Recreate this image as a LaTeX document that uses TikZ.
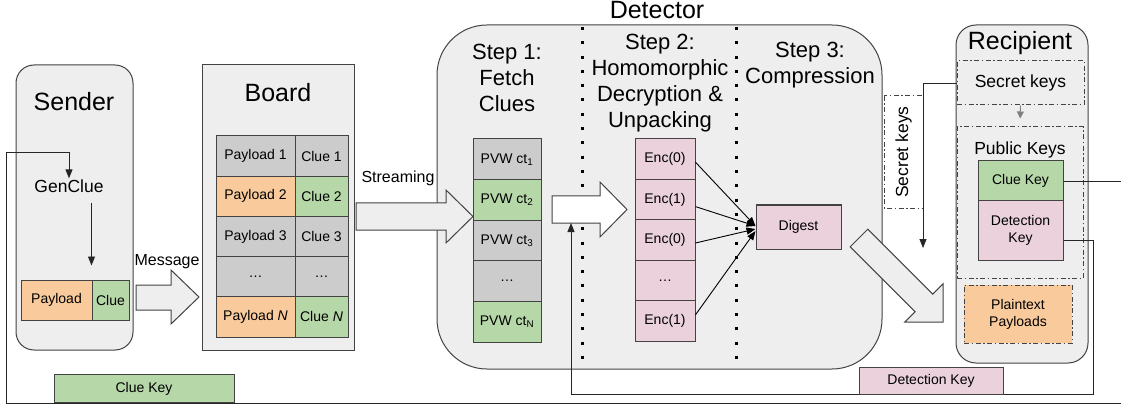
\documentclass[tikz,border=0pt]{standalone}
\usepackage{fontspec}
\setmainfont{Liberation Sans}
\usetikzlibrary{arrows.meta}

\definecolor{boxgray}{HTML}{EEEEEE}
\definecolor{cellgray}{HTML}{CCCCCC}
\definecolor{payorange}{HTML}{F9CB9C}
\definecolor{cluegreen}{HTML}{B6D7A8}
\definecolor{encpink}{HTML}{EAD1DC}
\definecolor{edgegray}{HTML}{434343}

\tikzset{
  container/.style={draw=edgegray, fill=boxgray, line width=1pt},
  cell/.style={draw=edgegray, line width=1pt, inner sep=0pt, align=center, font=\fontsize{14}{17}\selectfont},
  keybox/.style={draw=edgegray, line width=1pt, dash pattern=on 5pt off 2.5pt on 1.5pt off 2.5pt, inner sep=0pt, align=center},
  bigarrow/.style={draw=edgegray, line width=1pt, fill=boxgray},
  arr/.style={-{Triangle[length=9pt,width=7pt]}, line width=0.9pt, draw=black!85},
  stepsep/.style={line width=3pt, dash pattern=on 3pt off 11.3pt},
  title/.style={inner sep=0pt, font=\fontsize{25}{28}\selectfont},
  steplbl/.style={inner sep=0pt, align=center, font=\fontsize{22}{26}\selectfont},
  midtext/.style={inner sep=0pt, font=\fontsize{16}{19}\selectfont},
  keytext/.style={inner sep=0pt, align=center, font=\fontsize{17.5}{21}\selectfont}
}

\begin{document}
\begin{tikzpicture}[x=1pt, y=-1pt]
    \useasboundingbox (0,0) rectangle (1121,406);

    % Sender
    \draw[container, rounded corners=18pt] (16,65) rectangle (133,350);
    \node[title] (sender) at (74,102) {Sender};
    \node[keytext] (gen) at (69,186) {GenClue};
    \node[cell, fill=payorange, minimum width=71pt, minimum height=40pt] (pay) at (56.5,300) {Payload};
    \node[cell, fill=cluegreen, minimum width=37pt, minimum height=40pt] (clue) at (110.5,300) {Clue};
    \draw[arr, shorten <=10pt, shorten >=14pt] (gen.south -| clue.west) -- (clue.north west);

    % Message arrow
    \draw[bigarrow] (136,285) -- (171,285) -- (171,270) -- (199,297) -- (171,324) -- (171,310) -- (136,310) -- cycle;
    \node[midtext] (msg) at (167,262) {Message};

    % Board
    \draw[container] (202,65) rectangle (354,350);
    \node[title] (board) at (278,93) {Board};
    \node[cell, fill=cellgray, minimum width=79pt, minimum height=40.2pt] (bp1) at (255.5,156.1) {Payload 1};
    \node[cell, fill=cellgray, minimum width=53pt, minimum height=40.2pt] (bc1) at (321.5,156.1) {Clue 1};
    \node[cell, fill=payorange, minimum width=79pt, minimum height=40.2pt] (bp2) at (255.5,196.3) {Payload 2};
    \node[cell, fill=cluegreen, minimum width=53pt, minimum height=40.2pt] (bc2) at (321.5,196.3) {Clue 2};
    \node[cell, fill=cellgray, minimum width=79pt, minimum height=40.2pt] (bp3) at (255.5,236.5) {Payload 3};
    \node[cell, fill=cellgray, minimum width=53pt, minimum height=40.2pt] (bc3) at (321.5,236.5) {Clue 3};
    \node[cell, fill=cellgray, minimum width=79pt, minimum height=40.2pt] (bpd) at (255.5,276.7) {\dots};
    \node[cell, fill=cellgray, minimum width=53pt, minimum height=40.2pt] (bcd) at (321.5,276.7) {\dots};
    \node[cell, fill=payorange, minimum width=79pt, minimum height=40.2pt] (bpn) at (255.5,316.9) {Payload \textit{N}};
    \node[cell, fill=cluegreen, minimum width=53pt, minimum height=40.2pt] (bcn) at (321.5,316.9) {Clue \textit{N}};

    % Detector
    \draw[container, rounded corners=50pt] (437,25) rectangle (882,369);
    \node[title] (det) at (657,10) {Detector};
    \draw[stepsep] (582,27) -- (582,369);
    \draw[stepsep] (736,27) -- (736,369);
    \node[steplbl] (step1) at (507,78) {Step 1:\\Fetch\\Clues};
    \node[steplbl] (step2) at (660,83) {Step 2:\\Homomorphic\\Decryption \&\\Unpacking};
    \node[steplbl] (step3) at (810,65.5) {Step 3:\\Compression};

    % Streaming arrow
    \draw[bigarrow] (356,203) -- (446,203) -- (446,190) -- (473,216.5) -- (446,243) -- (446,230) -- (356,230) -- cycle;
    \node[midtext] (stream) at (398,178) {Streaming};

    % Step 1 column
    \node[cell, fill=cellgray, minimum width=68pt, minimum height=40.6pt] (ct1) at (507,159.3) {PVW ct\textsubscript{1}};
    \node[cell, fill=cluegreen, minimum width=68pt, minimum height=40.6pt] (ct2) at (507,199.9) {PVW ct\textsubscript{2}};
    \node[cell, fill=cellgray, minimum width=68pt, minimum height=40.6pt] (ct3) at (507,240.5) {PVW ct\textsubscript{3}};
    \node[cell, fill=cellgray, minimum width=68pt, minimum height=40.6pt] (ctd) at (507,281.1) {\dots};
    \node[cell, fill=cluegreen, minimum width=68pt, minimum height=40.6pt] (ctn) at (507,321.7) {PVW ct\textsubscript{N}};

    % Step 1 to step 2
    \draw[bigarrow, fill=white] (552,196) -- (600,196) -- (600,182) -- (627,209.5) -- (600,237) -- (600,223) -- (552,223) -- cycle;
    \coordinate (unpackin) at (571,223);

    % Step 2 column
    \node[cell, fill=encpink, minimum width=60pt, minimum height=40.4pt] (e1) at (665,159.2) {Enc(0)};
    \node[cell, fill=encpink, minimum width=60pt, minimum height=40.4pt] (e2) at (665,199.6) {Enc(1)};
    \node[cell, fill=encpink, minimum width=60pt, minimum height=40.4pt] (e3) at (665,240) {Enc(0)};
    \node[cell, fill=encpink, minimum width=60pt, minimum height=40.4pt] (ed) at (665,280.4) {\dots};
    \node[cell, fill=encpink, minimum width=60pt, minimum height=40.4pt] (en) at (665,320.8) {Enc(1)};

    % Step 3
    \node[cell, fill=encpink, minimum width=85pt, minimum height=44pt] (digest) at (798.5,227) {Digest};
    \draw[arr, draw=black] ([yshift=-3pt]e1.east) -- ([yshift=1pt]digest.west);
    \draw[arr, draw=black] ([yshift=-7pt]e2.east) -- ([yshift=1pt]digest.west);
    \draw[arr, draw=black] ([yshift=-3pt]e3.east) -- ([yshift=-2pt]digest.west);
    \draw[arr, draw=black] ([yshift=6pt]en.east) -- ([yshift=-4pt]digest.west);

    % Detector to recipient
    \draw[bigarrow] (867.8,229.2) -- (932.7,294.1) -- (943,283.8) -- (943,322) -- (904.8,322) -- (915.1,311.8) -- (850.2,246.8) -- cycle;

    % Secret keys hand-over
    \node[keybox, keytext, fill=white, minimum width=112pt, minimum height=39pt, rotate=90] (sk) at (903.5,152) {Secret keys};

    % Recipient
    \draw[container, rounded corners=20pt] (956,25) rectangle (1088,363);
    \node[title] (recip) at (1020,43) {Recipient};
    \node[keybox, keytext, minimum width=127pt, minimum height=44pt] (rs) at (1020.5,83) {Secret keys};
    \node[keybox, minimum width=126pt, minimum height=151pt] (pk) at (1020,202.5) {};
    \node[keytext] (pklbl) at (1020,150) {Public Keys};
    \draw[arr, draw=gray, -{Triangle[length=7pt,width=7pt]}, shorten >=8pt] (rs.south) -- (pk.north);
    \node[cell, fill=cluegreen, minimum width=85pt, minimum height=40pt] (rck) at (1020.5,181) {Clue Key};
    \node[cell, fill=encpink, minimum width=85pt, minimum height=59pt] (rdk) at (1020.5,230.5) {Detection\\Key};
    \node[keybox, fill=payorange, font=\fontsize{14}{17}\selectfont, minimum width=108pt, minimum height=58pt] (plain) at (1018,314) {Plaintext\\Payloads};

    % Key lines
    \coordinate (skend) at (923,248);
    \draw[arr] (rs.west) -| (skend);
    \draw[arr, shorten >=1pt] (rck.east) -| (1130,403) -| (6,152) -| (gen.north);
    \draw[arr] ([yshift=-10pt]rdk.east) -| (1093,394) -| (unpackin);
    \node[cell, fill=cluegreen, minimum width=180pt, minimum height=28pt] (cklbl) at (144,388.5) {Clue Key};
    \node[cell, fill=encpink, minimum width=144pt, minimum height=27pt] (dklbl) at (931,380.5) {Detection Key};
\end{tikzpicture}
\end{document}
